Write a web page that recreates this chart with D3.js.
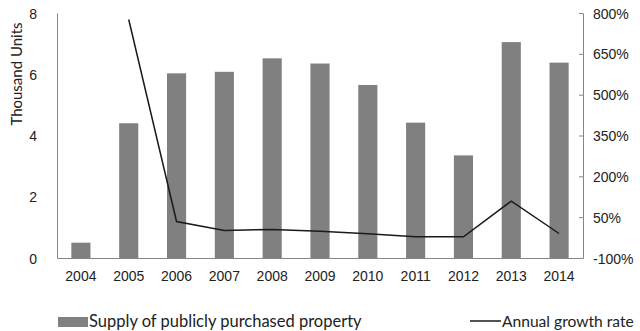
<!DOCTYPE html>
<html>
<head>
<meta charset="utf-8">
<script src="https://cdn.jsdelivr.net/npm/d3@7"></script>
<style>
  body { margin: 0; background: #fff; }
  svg { display: block; font-family: Lato, "Noto Sans", sans-serif; }
  .axis path, .axis line { stroke: #868686; }
  .axis text { fill: #222; font-size: 14px; }
</style>
</head>
<body>
<svg id="chart" width="640" height="331"></svg>
<script>
// Years along the bottom
const years = ['2004', '2005', '2006', '2007', '2008', '2009', '2010', '2011', '2012', '2013', '2014'];
// Supply of publicly purchased property (thousand units)
const supply = [0.5, 4.4, 6.03, 6.08, 6.52, 6.35, 5.65, 4.42, 3.35, 7.05, 6.38];
// Annual growth rate (%), no value for 2004
const growth = [null, 776, 34, 1, 5, -2, -11, -22, -22, 109, -10];
// Axis ticks
const leftTicks = [0, 2, 4, 6, 8];
const rightTicks = [-100, 50, 200, 350, 500, 650, 800];

const layout = { marginLeft: 57, marginRight: 57, marginTop: 13, marginBottom: 73, width: 526, height: 245 };

const svg = d3.select('#chart');
const stage = svg.append('g')
  .attr('transform', `translate(${layout.marginLeft},${layout.marginTop})`);

const x = d3.scaleBand().domain(years).range([0, layout.width]).paddingInner(0.6).paddingOuter(0.3);
const yLeft = d3.scaleLinear().domain([0, 8]).range([layout.height, 0]);
const yRight = d3.scaleLinear().domain([-100, 800]).range([layout.height, 0]);

// Bars
stage.selectAll('rect.bar')
  .data(supply)
  .join('rect')
  .attr('class', 'bar')
  .attr('x', (d, i) => x(years[i]))
  .attr('width', x.bandwidth())
  .attr('y', d => yLeft(d))
  .attr('height', d => yLeft(0) - yLeft(d))
  .attr('fill', '#808080');

// Growth line
const line = d3.line()
  .defined(d => d.v !== null)
  .x(d => x(d.year) + x.bandwidth() / 2)
  .y(d => yRight(d.v));

stage.append('path')
  .datum(years.map((year, i) => ({ year, v: growth[i] })))
  .attr('d', line)
  .attr('fill', 'none')
  .attr('stroke', '#1a1a1a')
  .attr('stroke-width', 1.5);

// Left axis
stage.append('g')
  .attr('class', 'axis')
  .call(d3.axisLeft(yLeft).tickValues(leftTicks).tickSize(0).tickPadding(20).tickSizeOuter(0))
  .call(g => g.selectAll('text').attr('dy', '0.36em'));

// Right axis
stage.append('g')
  .attr('class', 'axis')
  .attr('transform', `translate(${layout.width},0)`)
  .call(d3.axisRight(yRight).tickValues(rightTicks).tickSize(-4).tickPadding(10).tickSizeOuter(0)
    .tickFormat(d => d + '%'))
  .call(g => g.selectAll('text').attr('dy', '0.36em').attr('x', 10));

// Bottom axis
stage.append('g')
  .attr('class', 'axis')
  .attr('transform', `translate(0,${layout.height})`)
  .call(d3.axisBottom(x).tickSize(0).tickPadding(13).tickSizeOuter(0));

// Y axis title
svg.append('text')
  .attr('transform', 'translate(22,74) rotate(-90)')
  .attr('text-anchor', 'middle')
  .attr('font-size', 15)
  .attr('fill', '#222')
  .text('Thousand Units');

// Legend
const legend = svg.append('g');
legend.append('rect')
  .attr('x', 58).attr('y', 317).attr('width', 30).attr('height', 10)
  .attr('fill', '#808080');
legend.append('text')
  .attr('x', 89).attr('y', 327)
  .attr('font-size', 16.5).attr('fill', '#222')
  .text('Supply of publicly purchased property');
legend.append('line')
  .attr('x1', 470).attr('x2', 501).attr('y1', 321).attr('y2', 321)
  .attr('stroke', '#1a1a1a').attr('stroke-width', 1.5);
legend.append('text')
  .attr('x', 502).attr('y', 327)
  .attr('font-size', 15.6).attr('fill', '#222')
  .text('Annual growth rate');
</script>
</body>
</html>
